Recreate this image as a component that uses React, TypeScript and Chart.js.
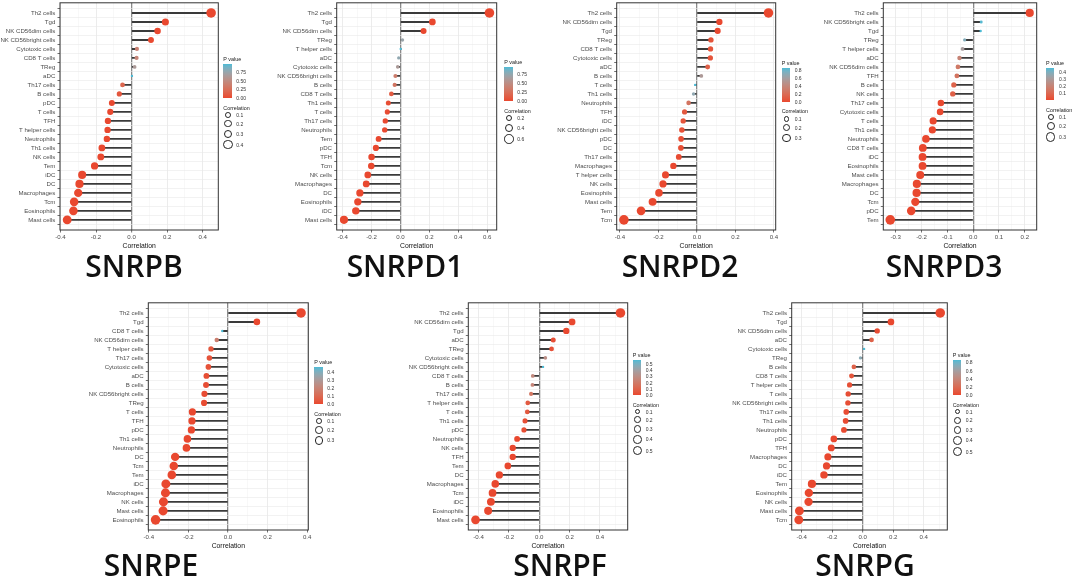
import React, { useEffect, useRef } from "react";
import { Chart, registerables } from "chart.js";

Chart.register(...registerables);

const FONT = "'Liberation Sans', Arial, Helvetica, sans-serif";
const TITLE_FONT = "'Open Sans', 'Noto Sans', sans-serif";

// ---------------- data ----------------
const snrpbCells = ["Th2 cells","Tgd","NK CD56dim cells","NK CD56bright cells","Cytotoxic cells","CD8 T cells","TReg","aDC","Th17 cells","B cells","pDC","T cells","TFH","T helper cells","Neutrophils","Th1 cells","NK cells","Tem","iDC","DC","Macrophages","Tcm","Eosinophils","Mast cells"];
const snrpbCor = [0.447,0.19,0.146,0.109,0.030,0.028,0.017,0.002,-0.051,-0.069,-0.111,-0.12,-0.133,-0.135,-0.139,-0.167,-0.173,-0.208,-0.278,-0.293,-0.30,-0.323,-0.327,-0.362];
const snrpbP = [0,0,0,0.004,0.40,0.43,0.62,0.96,0.19,0.08,0.004,0.002,0.001,0.001,0.001,0,0,0,0,0,0,0,0,0];

const snrpd1Cells = ["Th2 cells","Tgd","NK CD56dim cells","TReg","T helper cells","aDC","Cytotoxic cells","NK CD56bright cells","B cells","CD8 T cells","Th1 cells","T cells","Th17 cells","Neutrophils","Tem","pDC","TFH","Tcm","NK cells","Macrophages","DC","Eosinophils","iDC","Mast cells"];
const snrpd1Cor = [0.616,0.221,0.160,0.014,0.002,-0.012,-0.019,-0.035,-0.040,-0.063,-0.084,-0.091,-0.105,-0.109,-0.151,-0.170,-0.200,-0.202,-0.226,-0.237,-0.281,-0.295,-0.309,-0.391];
const snrpd1P = [0,0,0,0.72,0.96,0.76,0.62,0.36,0.30,0.11,0.03,0.02,0.007,0.005,0,0,0,0,0,0,0,0,0,0];

const snrpd2Cells = ["Th2 cells","NK CD56dim cells","Tgd","TReg","CD8 T cells","Cytotoxic cells","aDC","B cells","T cells","Th1 cells","Neutrophils","TFH","iDC","NK CD56bright cells","pDC","DC","Th17 cells","Macrophages","T helper cells","NK cells","Eosinophils","Mast cells","Tem","Tcm"];
const snrpd2Cor = [0.372,0.117,0.108,0.073,0.071,0.070,0.056,0.023,-0.009,-0.017,-0.043,-0.064,-0.071,-0.078,-0.082,-0.083,-0.094,-0.122,-0.163,-0.176,-0.197,-0.230,-0.290,-0.379];
const snrpd2P = [0,0.002,0.004,0.05,0.055,0.06,0.13,0.53,0.83,0.66,0.25,0.08,0.06,0.04,0.03,0.03,0.015,0.002,0,0,0,0,0,0];

const snrpd3Cells = ["Th2 cells","NK CD56bright cells","Tgd","TReg","T helper cells","aDC","NK CD56dim cells","TFH","B cells","NK cells","Th17 cells","Cytotoxic cells","T cells","Th1 cells","Neutrophils","CD8 T cells","iDC","Eosinophils","Mast cells","Macrophages","DC","Tcm","pDC","Tem"];
const snrpd3Cor = [0.219,0.031,0.029,-0.033,-0.041,-0.053,-0.059,-0.063,-0.075,-0.079,-0.125,-0.128,-0.155,-0.158,-0.183,-0.195,-0.196,-0.196,-0.205,-0.218,-0.219,-0.224,-0.24,-0.321];
const snrpd3P = [0,0.45,0.46,0.39,0.31,0.2,0.16,0.14,0.08,0.07,0.002,0.002,0,0,0,0,0,0,0,0,0,0,0,0];

const snrpeCells = ["Th2 cells","Tgd","CD8 T cells","NK CD56dim cells","T helper cells","Th17 cells","Cytotoxic cells","aDC","B cells","NK CD56bright cells","TReg","T cells","TFH","pDC","Th1 cells","Neutrophils","DC","Tcm","Tem","iDC","Macrophages","NK cells","Mast cells","Eosinophils"];
const snrpeCor = [0.369,0.146,-0.029,-0.057,-0.086,-0.094,-0.099,-0.109,-0.111,-0.119,-0.121,-0.180,-0.182,-0.185,-0.205,-0.210,-0.267,-0.274,-0.284,-0.314,-0.316,-0.326,-0.328,-0.366];
const snrpeP = [0,0.001,0.46,0.18,0.04,0.03,0.025,0.015,0.013,0.01,0.009,0,0,0,0,0,0,0,0,0,0,0,0,0];

const snrpfCells = ["Th2 cells","NK CD56dim cells","Tgd","aDC","TReg","Cytotoxic cells","NK CD56bright cells","CD8 T cells","B cells","Th17 cells","T helper cells","T cells","Th1 cells","pDC","Neutrophils","NK cells","TFH","Tem","DC","Macrophages","Tcm","iDC","Eosinophils","Mast cells"];
const snrpfCor = [0.535,0.216,0.178,0.092,0.081,0.040,0.025,-0.043,-0.045,-0.054,-0.076,-0.079,-0.094,-0.101,-0.146,-0.175,-0.175,-0.207,-0.263,-0.290,-0.308,-0.319,-0.337,-0.420];
const snrpfP = [0,0,0,0.02,0.03,0.3,0.56,0.27,0.25,0.18,0.06,0.055,0.02,0.015,0.001,0,0,0,0,0,0,0,0,0];

const snrpgCells = ["Th2 cells","Tgd","NK CD56dim cells","aDC","Cytotoxic cells","TReg","B cells","CD8 T cells","T helper cells","T cells","NK CD56bright cells","Th17 cells","Th1 cells","Neutrophils","pDC","TFH","Macrophages","DC","iDC","Tem","Eosinophils","NK cells","Mast cells","Tcm"];
const snrpgCor = [0.508,0.185,0.095,0.058,0.009,-0.015,-0.058,-0.073,-0.086,-0.095,-0.097,-0.108,-0.112,-0.123,-0.189,-0.206,-0.228,-0.237,-0.254,-0.333,-0.353,-0.355,-0.415,-0.419];
const snrpgP = [0,0,0.02,0.14,0.86,0.7,0.14,0.07,0.04,0.03,0.03,0.02,0.015,0.01,0,0,0,0,0,0,0,0,0,0];

// legend tick labels
const pTicksQuarter = [0, 0.25, 0.5, 0.75];
const pTicksFifth = [0, 0.2, 0.4, 0.6, 0.8];
const pTicksD3 = [0.1, 0.2, 0.3, 0.4];
const pTicksE = [0, 0.1, 0.2, 0.3, 0.4];
const pTicksF = [0, 0.1, 0.2, 0.3, 0.4, 0.5];
const sizeTicks4 = [0.1, 0.2, 0.3, 0.4];
const sizeTicksD1 = [0.2, 0.4, 0.6];
const sizeTicks3 = [0.1, 0.2, 0.3];
const sizeTicks5 = [0.1, 0.2, 0.3, 0.4, 0.5];

// ---------------- colours ----------------
const LOW = "#E9482F";
const HIGH = "#4DBBD5";

function hexToRgb(h: string) {
  const n = parseInt(h.slice(1), 16);
  return [(n >> 16) & 255, (n >> 8) & 255, n & 255];
}
function toLab(rgb: number[]) {
  const lin = rgb.map((c) => {
    const v = c / 255;
    return v <= 0.04045 ? v / 12.92 : Math.pow((v + 0.055) / 1.055, 2.4);
  });
  const X = (0.4124 * lin[0] + 0.3576 * lin[1] + 0.1805 * lin[2]) / 0.95047;
  const Y = 0.2126 * lin[0] + 0.7152 * lin[1] + 0.0722 * lin[2];
  const Z = (0.0193 * lin[0] + 0.1192 * lin[1] + 0.9505 * lin[2]) / 1.08883;
  const f = (t: number) => (t > 0.008856 ? Math.cbrt(t) : 7.787 * t + 16 / 116);
  const fx = f(X), fy = f(Y), fz = f(Z);
  return [116 * fy - 16, 500 * (fx - fy), 200 * (fy - fz)];
}
function fromLab(lab: number[]) {
  const fy = (lab[0] + 16) / 116;
  const fx = fy + lab[1] / 500;
  const fz = fy - lab[2] / 200;
  const inv = (t: number) => (t * t * t > 0.008856 ? t * t * t : (t - 16 / 116) / 7.787);
  const X = inv(fx) * 0.95047, Y = inv(fy), Z = inv(fz) * 1.08883;
  const r = 3.2406 * X - 1.5372 * Y - 0.4986 * Z;
  const g = -0.9689 * X + 1.8758 * Y + 0.0415 * Z;
  const b = 0.0557 * X - 0.204 * Y + 1.057 * Z;
  const gam = (c: number) => {
    const v = c <= 0.0031308 ? 12.92 * c : 1.055 * Math.pow(c, 1 / 2.4) - 0.055;
    return Math.round(Math.max(0, Math.min(1, v)) * 255);
  };
  return `rgb(${gam(r)},${gam(g)},${gam(b)})`;
}
const LAB_LO = toLab(hexToRgb(LOW));
const LAB_HI = toLab(hexToRgb(HIGH));
function gradColor(t: number) {
  const u = Math.max(0, Math.min(1, t));
  return fromLab(LAB_LO.map((v, i) => v + (LAB_HI[i] - v) * u));
}

// ---------------- panel set-up ----------------
type Panel = {
  gene: string;
  cells: string[];
  cor: number[];
  p: number[];
  pTicks: number[];
  pDec: number;
  sizeTicks: number[];
  major: number;
  minor: number;
  plot: number[]; // left, top, right, bottom
  legend: { x: number; barTop: number; barH: number };
  title: { cx: number; capTop: number };
};

const panels: Panel[] = [
  { gene: "SNRPB", cells: snrpbCells, cor: snrpbCor, p: snrpbP, pTicks: pTicksQuarter, pDec: 2, sizeTicks: sizeTicks4, major: 0.2, minor: 0.1,
    plot: [60, 2, 218.3, 230], legend: { x: 223.3, barTop: 64.3, barH: 34 }, title: { cx: 134, capTop: 256 } },
  { gene: "SNRPD1", cells: snrpd1Cells, cor: snrpd1Cor, p: snrpd1P, pTicks: pTicksQuarter, pDec: 2, sizeTicks: sizeTicksD1, major: 0.2, minor: 0.1,
    plot: [336.7, 2, 496.7, 230], legend: { x: 504.3, barTop: 66.7, barH: 34.3 }, title: { cx: 405, capTop: 256 } },
  { gene: "SNRPD2", cells: snrpd2Cells, cor: snrpd2Cor, p: snrpd2P, pTicks: pTicksFifth, pDec: 1, sizeTicks: sizeTicks3, major: 0.2, minor: 0.1,
    plot: [616.7, 2, 775.7, 230], legend: { x: 781.7, barTop: 68.3, barH: 33.4 }, title: { cx: 680, capTop: 256 } },
  { gene: "SNRPD3", cells: snrpd3Cells, cor: snrpd3Cor, p: snrpd3P, pTicks: pTicksD3, pDec: 1, sizeTicks: sizeTicks3, major: 0.1, minor: 0.05,
    plot: [883.3, 2, 1036.7, 230], legend: { x: 1046, barTop: 67.7, barH: 32.3 }, title: { cx: 944, capTop: 256 } },
  { gene: "SNRPE", cells: snrpeCells, cor: snrpeCor, p: snrpeP, pTicks: pTicksE, pDec: 1, sizeTicks: sizeTicks3, major: 0.2, minor: 0.1,
    plot: [148.3, 302.3, 308.3, 530], legend: { x: 314.3, barTop: 366.7, barH: 37.6 }, title: { cx: 151, capTop: 555 } },
  { gene: "SNRPF", cells: snrpfCells, cor: snrpfCor, p: snrpfP, pTicks: pTicksF, pDec: 1, sizeTicks: sizeTicks5, major: 0.2, minor: 0.1,
    plot: [468.3, 302.3, 627.7, 530], legend: { x: 632.7, barTop: 360, barH: 35 }, title: { cx: 560, capTop: 555 } },
  { gene: "SNRPG", cells: snrpgCells, cor: snrpgCor, p: snrpgP, pTicks: pTicksFifth, pDec: 1, sizeTicks: sizeTicks5, major: 0.2, minor: 0.1,
    plot: [791.7, 302.3, 947.3, 530], legend: { x: 952.7, barTop: 360, barH: 35 }, title: { cx: 865, capTop: 555 } },
];

const LABEL_SIZE = 6.1;
const AXIS_TITLE_SIZE = 6.8;
const TITLE_SIZE = 30;

function radiusFn(panel: Panel) {
  const abs = panel.cor.map((v) => Math.abs(v));
  const aMin = Math.min(...abs), aMax = Math.max(...abs);
  return (a: number) => 1.2 + 3.6 * Math.sqrt(Math.max(0, (a - aMin) / (aMax - aMin)));
}
function colorFn(panel: Panel) {
  const pMax = Math.max(...panel.p), pMin = Math.min(...panel.p);
  return (p: number) => gradColor((p - pMin) / (pMax - pMin));
}

function geometry(panel: Panel) {
  const [l, t, r, b] = panel.plot;
  const cl = Math.floor(l) - 72;
  const ct = Math.floor(t) - 4;
  const xh = 16.5 + (AXIS_TITLE_SIZE * 1.2) / 2;
  const cw = Math.ceil(r + 12) - cl;
  const ch = Math.ceil(b + xh + 2) - ct;
  return {
    cl, ct, cw, ch, xh,
    yw: l - cl,
    pt: t - ct,
    pr: cl + cw - r,
    pb: ct + ch - (b + xh),
  };
}

const framePlugin = {
  id: "frame",
  afterDraw(chart: any) {
    const { ctx, chartArea: a } = chart;
    ctx.save();
    ctx.strokeStyle = "#333333";
    ctx.lineWidth = 1;
    ctx.strokeRect(a.left, a.top, a.right - a.left, a.bottom - a.top);
    ctx.restore();
  },
};

function LollipopPanel({ panel }: { panel: Panel }) {
  const ref = useRef<HTMLCanvasElement>(null);
  const g = geometry(panel);

  useEffect(() => {
    if (!ref.current) return;
    const rad = radiusFn(panel);
    const col = colorFn(panel);
    const n = panel.cells.length;
    const lo = Math.min(...panel.cor), hi = Math.max(...panel.cor);
    const pad = (hi - lo) * 0.05;
    const xMin = lo - pad, xMax = hi + pad;
    const xTicks: number[] = [];
    for (let k = Math.ceil(xMin / panel.minor); k <= Math.floor(xMax / panel.minor); k++) {
      xTicks.push(Number((k * panel.minor).toFixed(4)));
    }
    const isMajor = (v: number) => Math.abs(v / panel.major - Math.round(v / panel.major)) < 1e-6;
    const pts = panel.cor.map((v, i) => ({ x: v, y: i }));

    const chart = new Chart(ref.current, {
      type: "bar",
      data: {
        datasets: [
          {
            type: "line",
            indexAxis: "y",
            data: pts,
            showLine: false,
            pointRadius: panel.cor.map((v) => rad(Math.abs(v))),
            pointHoverRadius: panel.cor.map((v) => rad(Math.abs(v))),
            pointBackgroundColor: panel.p.map((p) => col(p)),
            pointBorderColor: panel.p.map((p) => col(p)),
            pointBorderWidth: 0,
            order: 1,
          } as any,
          {
            type: "bar",
            indexAxis: "y",
            data: pts,
            backgroundColor: "#3a3a3a",
            barThickness: 1.25,
            order: 2,
          } as any,
        ],
      },
      options: {
        indexAxis: "y",
        responsive: false,
        animation: false,
        events: [],
        layout: { padding: { left: 0, top: g.pt, right: g.pr, bottom: g.pb } },
        plugins: { legend: { display: false }, tooltip: { enabled: false } },
        scales: {
          x: {
            type: "linear",
            position: "bottom",
            min: xMin,
            max: xMax,
            afterBuildTicks: (s: any) => {
              s.ticks = xTicks.map((v) => ({ value: v }));
            },
            afterFit: (s: any) => {
              s.height = g.xh;
              s.paddingLeft = 0;
              s.paddingRight = 0;
            },
            ticks: {
              autoSkip: false,
              maxRotation: 0,
              padding: 1.6,
              color: "#4D4D4D",
              font: { family: FONT, size: LABEL_SIZE },
              callback: (v: any) => (isMajor(Number(v)) ? Number(v).toFixed(1) : ""),
            },
            grid: {
              color: (c: any) => {
                const v = c.tick ? c.tick.value : 1;
                if (Math.abs(v) < 1e-9) return "#8a8a8a";
                return isMajor(v) ? "#e4e4e4" : "#efefef";
              },
              lineWidth: (c: any) => {
                const v = c.tick ? c.tick.value : 1;
                if (Math.abs(v) < 1e-9) return 1.3;
                return isMajor(v) ? 0.7 : 0.45;
              },
              tickColor: (c: any) => {
                const v = c.tick ? c.tick.value : 1;
                return isMajor(v) ? "#333333" : "rgba(0,0,0,0)";
              },
              tickLength: 2.5,
              tickWidth: 0.7,
            },
            border: { display: false },
            title: {
              display: true,
              text: "Correlation",
              color: "#111111",
              padding: 0,
              font: { family: FONT, size: AXIS_TITLE_SIZE },
            },
          },
          y: {
            type: "linear",
            reverse: true,
            min: -0.6,
            max: n - 0.4,
            afterBuildTicks: (s: any) => {
              s.ticks = panel.cells.map((_, i) => ({ value: i }));
            },
            afterFit: (s: any) => {
              s.width = g.yw;
              s.paddingTop = 0;
              s.paddingBottom = 0;
            },
            ticks: {
              autoSkip: false,
              padding: 2.2,
              color: "#4D4D4D",
              font: { family: FONT, size: LABEL_SIZE },
              callback: (v: any) => panel.cells[Number(v)] ?? "",
            },
            grid: {
              color: "#e9e9e9",
              lineWidth: 0.6,
              tickColor: "#333333",
              tickLength: 2.5,
              tickWidth: 0.7,
            },
            border: { display: false },
          },
        },
      } as any,
      plugins: [framePlugin],
    });
    return () => chart.destroy();
  }, []);

  return (
    <>
      <canvas
        ref={ref}
        width={g.cw}
        height={g.ch}
        style={{ position: "absolute", left: g.cl, top: g.ct, width: g.cw, height: g.ch }}
      />
      <Legend panel={panel} />
      <div
        style={{
          position: "absolute",
          left: panel.title.cx - 100,
          top: panel.title.capTop - 5.7,
          width: 200,
          textAlign: "center",
          fontFamily: TITLE_FONT,
          fontWeight: 600,
          fontSize: TITLE_SIZE,
          lineHeight: "31px",
          color: "#111",
          whiteSpace: "nowrap",
        }}
      >
        {panel.gene}
      </div>
    </>
  );
}

function Legend({ panel }: { panel: Panel }) {
  const L = panel.legend;
  const barW = 8.3;
  const pMax = Math.max(...panel.p);
  const pMin = Math.min(...panel.p);
  const rad = radiusFn(panel);
  const stops = Array.from({ length: 21 }, (_, i) => `${gradColor(i / 20)} ${i * 5}%`).join(",");
  const labelX = L.x + 13;
  const corrTitleY = L.barTop + L.barH + 9.5;
  const diams = panel.sizeTicks.map((v) => 2 * rad(v));
  const centers: number[] = [];
  diams.forEach((d, i) => {
    if (i === 0) centers.push(corrTitleY + 4.5 + d / 2);
    else centers.push(centers[i - 1] + (diams[i - 1] + d) / 2 + 2.2);
  });
  const cx = L.x + 4.8;
  const txt = (extra: any) => ({
    position: "absolute" as const,
    fontFamily: FONT,
    whiteSpace: "nowrap" as const,
    lineHeight: "6px",
    ...extra,
  });
  return (
    <>
      <div style={txt({ left: L.x, top: L.barTop - 8.2, fontSize: 5.4, color: "#1a1a1a" })}>P value</div>
      <div
        style={{
          position: "absolute",
          left: L.x,
          top: L.barTop,
          width: barW,
          height: L.barH,
          background: `linear-gradient(to top, ${stops})`,
        }}
      />
      {panel.pTicks.map((v) => (
        <div
          key={"p" + v}
          style={txt({
            left: labelX,
            top: L.barTop + (1 - (v - pMin) / (pMax - pMin)) * L.barH - 3,
            fontSize: 5,
            color: "#333",
          })}
        >
          {v.toFixed(panel.pDec)}
        </div>
      ))}
      <div style={txt({ left: L.x, top: corrTitleY - 3, fontSize: 5.4, color: "#1a1a1a" })}>Correlation</div>
      {panel.sizeTicks.map((v, i) => (
        <React.Fragment key={"s" + v}>
          <div
            style={{
              position: "absolute",
              left: cx - diams[i] / 2,
              top: centers[i] - diams[i] / 2,
              width: diams[i],
              height: diams[i],
              borderRadius: "50%",
              border: "0.8px solid #222",
              boxSizing: "border-box",
            }}
          />
          <div style={txt({ left: labelX, top: centers[i] - 3, fontSize: 5, color: "#333" })}>{v.toFixed(1)}</div>
        </React.Fragment>
      ))}
    </>
  );
}

export default function App() {
  return (
    <div
      style={{
        position: "absolute",
        left: 0,
        top: 0,
        width: 1072,
        height: 581,
        background: "#ffffff",
        overflow: "hidden",
      }}
    >
      {panels.map((p) => (
        <LollipopPanel key={p.gene} panel={p} />
      ))}
    </div>
  );
}
